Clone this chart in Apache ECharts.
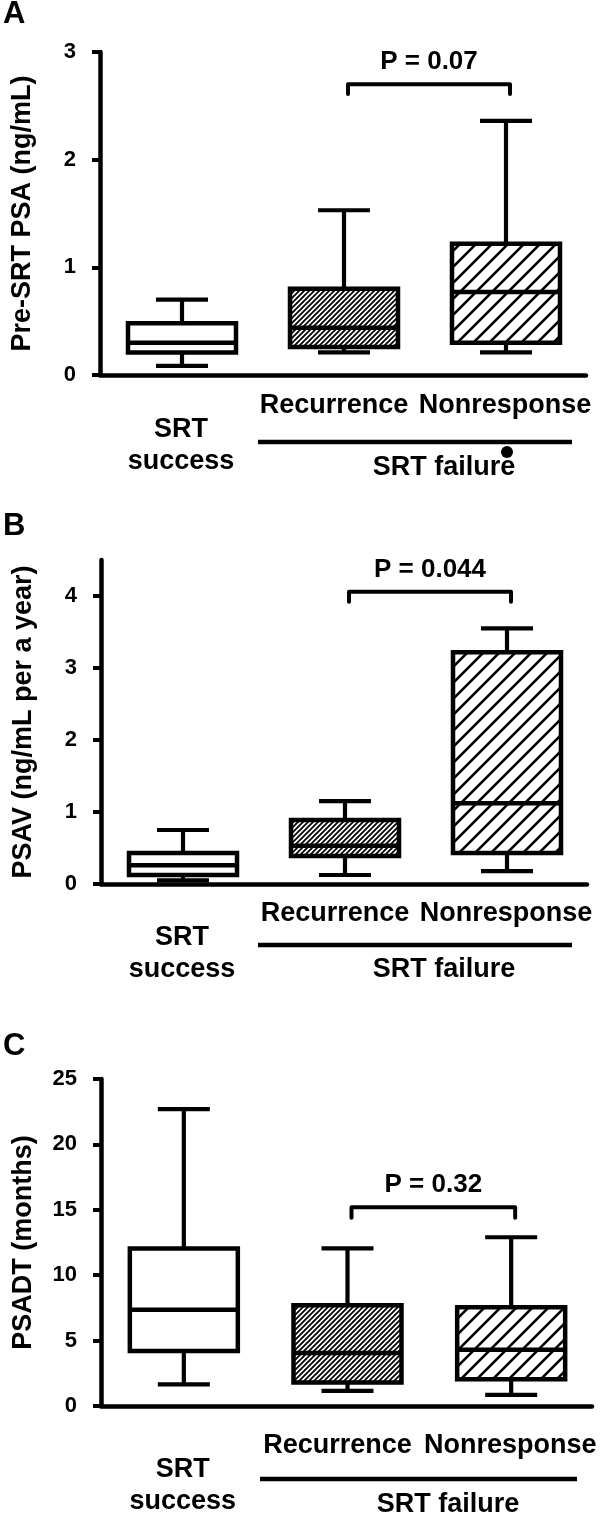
<!DOCTYPE html>
<html>
<head>
<meta charset="utf-8">
<script src="https://cdn.jsdelivr.net/npm/echarts@6/dist/echarts.min.js"></script>
<style>
  html, body { margin: 0; padding: 0; background: #fff; }
  #chart { width: 600px; height: 1521px; }
</style>
</head>
<body>
<div id="chart"></div>
<script>
const categories = ['SRT success', 'Recurrence', 'Nonresponse'];
// each box: [min, Q1, median, Q3, max]
const preSrtPsa = [[0.085, 0.21, 0.30, 0.48, 0.70], [0.21, 0.26, 0.44, 0.80, 1.53], [0.21, 0.30, 0.77, 1.22, 2.36]];
const psav = [[0.05, 0.125, 0.26, 0.43, 0.75], [0.125, 0.39, 0.53, 0.89, 1.15], [0.18, 0.43, 1.12, 3.22, 3.55]];
const psadt = [[1.65, 4.2, 7.35, 12.05, 22.7], [1.15, 1.8, 4.05, 7.7, 12.05], [0.85, 2.05, 4.3, 7.55, 12.9]];
const pLabels = ['P = 0.07', 'P = 0.044', 'P = 0.32'];
// bracket: [leg end, bar level]
const brackets = [[2.61, 2.70], [3.92, 4.06], [14.4, 15.2]];
const yTicks = [[0, 1, 2, 3], [0, 1, 2, 3, 4], [0, 5, 10, 15, 20, 25]];
const yMax = [3, 4.5, 25];
const yTitles = ['Pre-SRT PSA (ng/mL)', 'PSAV (ng/mL per a year)', 'PSADT (months)'];
const panelLetters = ['A', 'B', 'C'];
const panels = [preSrtPsa, psav, psadt];

const FONT = '"Liberation Sans", Arial, Helvetica, sans-serif';
const grids = [
  { left: 100, top: 52, width: 486, height: 323 },
  { left: 101, top: 560, width: 486, height: 324 },
  { left: 101, top: 1079, width: 491, height: 327 }
];
const labelMargin = [15, 14, 24];

// diagonal hatch tiles
function hatch(step, lw) {
  const c = document.createElement('canvas');
  c.width = c.height = step;
  const g = c.getContext('2d');
  g.fillStyle = '#fff';
  g.fillRect(0, 0, step, step);
  g.strokeStyle = '#000';
  g.lineWidth = lw;
  g.beginPath();
  g.moveTo(-2, step + 2); g.lineTo(step + 2, -2);
  g.moveTo(-2, 2); g.lineTo(2, -2);
  g.moveTo(step - 2, step + 2); g.lineTo(step + 2, step - 2);
  g.stroke();
  return { image: c, repeat: 'repeat' };
}
const fills = ['#fff', hatch(5, 1.8), hatch(16, 2.6)];

const boxRender = (params, api) => {
  const i = api.value(0);
  const lo = api.coord([i, api.value(1)]);
  const q1 = api.coord([i, api.value(2)]);
  const md = api.coord([i, api.value(3)]);
  const q3 = api.coord([i, api.value(4)]);
  const hi = api.coord([i, api.value(5)]);
  const x = lo[0] + 1, hw = 54, cw = 26;
  const ln = (x1, y1, x2, y2, w) => ({
    type: 'line', shape: { x1, y1, x2, y2 },
    style: { stroke: '#000', lineWidth: w || 4.2 }
  });
  return {
    type: 'group',
    children: [
      ln(x, hi[1], x, q3[1]), ln(x - cw, hi[1], x + cw, hi[1]),
      ln(x, q1[1], x, lo[1]), ln(x - cw, lo[1], x + cw, lo[1]),
      {
        type: 'rect',
        shape: { x: x - hw, y: q3[1], width: 2 * hw, height: q1[1] - q3[1] },
        style: { fill: fills[i], stroke: '#000', lineWidth: 4.5, lineJoin: 'miter' }
      },
      ln(x - hw, md[1], x + hw, md[1], 4.5)
    ]
  };
};

const bracketRender = (params, api) => {
  const dx = 5;
  const a = api.coord([api.value(0), api.value(2)]);
  const b = api.coord([api.value(0), api.value(3)]);
  const c = api.coord([api.value(1), api.value(3)]);
  const d = api.coord([api.value(1), api.value(2)]);
  return {
    type: 'group',
    children: [
      {
        type: 'polyline',
        shape: { points: [[a[0] + dx, a[1]], [b[0] + dx, b[1]], [c[0] + dx, c[1]], [d[0] + dx, d[1]]] },
        style: { stroke: '#000', lineWidth: 4, fill: null, lineCap: 'round', lineJoin: 'round' }
      },
      {
        type: 'text',
        style: {
          text: pLabels[params.seriesIndex - 3],
          x: (b[0] + c[0]) / 2 + dx, y: b[1] - 22,
          align: 'center', verticalAlign: 'middle',
          fontSize: 26, fontWeight: 'bold', fontFamily: FONT, fill: '#000'
        }
      }
    ]
  };
};

const labelRich = {
  n: { fontSize: 27, fontWeight: 'bold', fontFamily: FONT, color: '#000', lineHeight: 32 },
  rec: { fontSize: 27, fontWeight: 'bold', fontFamily: FONT, color: '#000', lineHeight: 32, padding: [0, 18, 0, 0] },
  srt: { fontSize: 27, fontWeight: 'bold', fontFamily: FONT, color: '#000', padding: [26, 0, 0, 0] },
  suc: { fontSize: 27, fontWeight: 'bold', fontFamily: FONT, color: '#000', lineHeight: 38 }
};
const catFormatter = v => {
  if (v === 'SRT success') return '{srt|SRT}\n{suc|success}';
  if (v === 'Recurrence') return '{rec|Recurrence}';
  return '{n|' + v + '}';
};

const option = {
  animation: false,
  backgroundColor: '#fff',
  grid: grids.map(g => Object.assign({ containLabel: false, outerBoundsMode: 'none' }, g)),
  xAxis: grids.map((g, i) => ({
    type: 'category', gridIndex: i, data: categories,
    axisLine: { lineStyle: { color: '#000', width: 4.5 } },
    axisTick: { alignWithLabel: true, interval: 0, length: 10, lineStyle: { color: '#000', width: 4 } },
    axisLabel: { interval: 0, margin: labelMargin[i], formatter: catFormatter, rich: labelRich },
    splitLine: { show: false }
  })),
  yAxis: grids.map((g, i) => ({
    type: 'value', gridIndex: i, min: 0, max: yMax[i],
    name: yTitles[i], nameLocation: 'middle', nameGap: 64, nameRotate: 90,
    nameTextStyle: { fontSize: 27, fontWeight: 'bold', fontFamily: FONT, color: '#000' },
    axisLine: { show: true, lineStyle: { color: '#000', width: 4.5 } },
    axisTick: { show: true, length: 8, customValues: yTicks[i], lineStyle: { color: '#000', width: 4 } },
    axisLabel: { customValues: yTicks[i], margin: 24, fontSize: 22, fontWeight: 'bold', fontFamily: FONT, color: '#000' },
    splitLine: { show: false }
  })),
  series: [
    ...panels.map((vals, i) => ({
      type: 'custom', xAxisIndex: i, yAxisIndex: i, clip: false,
      renderItem: boxRender,
      encode: { x: 0, y: [1, 2, 3, 4, 5] },
      data: vals.map((v, k) => [k, ...v])
    })),
    ...brackets.map((b, i) => ({
      type: 'custom', xAxisIndex: i, yAxisIndex: i, clip: false,
      renderItem: bracketRender,
      encode: { x: [0, 1], y: [2, 3] },
      data: [[1, 2, b[0], b[1]]]
    }))
  ],
  graphic: [
    ...panelLetters.map((t, i) => ({
      type: 'text', left: 3, top: [-1, 511, 1031][i],
      style: { text: t, fontSize: 31, fontWeight: 'bold', fontFamily: FONT, fill: '#000' }
    })),
    ...[[442, 258, 572, 444, 468], [945, 258, 572, 444, 970], [1479, 260, 577, 448, 1505]].flatMap(p => [
      { type: 'line', shape: { x1: p[1], y1: p[0], x2: p[2], y2: p[0] }, style: { stroke: '#000', lineWidth: 4.5 } },
      {
        type: 'text', x: p[3], y: p[4],
        style: { text: 'SRT failure', align: 'center', verticalAlign: 'middle', fontSize: 27, fontWeight: 'bold', fontFamily: FONT, fill: '#000' }
      }
    ]),
    { type: 'circle', shape: { cx: 507, cy: 452, r: 6 }, style: { fill: '#000' } }
  ]
};

const chart = echarts.init(document.getElementById('chart'));
chart.setOption(option);
</script>
</body>
</html>
